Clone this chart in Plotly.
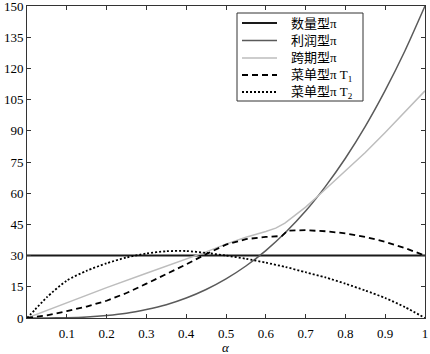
import plotly.graph_objects as go

# ---- data ----
alpha = [0, 0.05, 0.1, 0.15, 0.2, 0.25, 0.3, 0.35, 0.4, 0.45, 0.5,
         0.55, 0.6, 0.65, 0.7, 0.75, 0.8, 0.85, 0.9, 0.95, 1.0]

quantity_pi = [30] * len(alpha)

profit_pi = [0, 0.02, 0.15, 0.5, 1.2, 2.3, 4.1, 6.4, 9.6, 13.7, 18.8,
             25.0, 32.4, 41.2, 51.4, 63.3, 76.8, 92.1, 109.4, 128.6, 150]

inter_alpha = [0, 0.1, 0.2, 0.3, 0.4, 0.45, 0.5, 0.55, 0.6, 0.625, 0.648,
               0.7, 0.732, 0.8, 0.85, 0.9, 0.95, 1.0]
inter_pi = [0, 7.3, 14.6, 21.5, 28.2, 31.8, 35.5, 38.8, 41.6, 43.2, 45.6,
            53.3, 58.8, 70.6, 79.6, 89.2, 99.0, 109.2]

menu1_alpha = [0, 0.05, 0.1, 0.15, 0.2, 0.25, 0.3, 0.35, 0.4, 0.45, 0.5,
               0.55, 0.6, 0.64, 0.655, 0.7, 0.75, 0.8, 0.85, 0.9, 0.95, 1.0]
menu1_pi = [0, 1.3, 3.3, 5.5, 8.3, 12.0, 16.5, 21.0, 25.8, 30.7, 35.3,
            37.9, 39.0, 39.4, 42.0, 42.2, 41.7, 40.7, 39.0, 36.6, 33.6, 30.0]

menu2_alpha = [0, 0.02, 0.05, 0.1, 0.15, 0.2, 0.25, 0.3, 0.35, 0.4, 0.45, 0.5,
               0.55, 0.6, 0.65, 0.7, 0.75, 0.8, 0.85, 0.9, 0.95, 1.0]
menu2_pi = [0, 4.0, 10.0, 18.0, 22.7, 26.3, 29.1, 31.0, 32.1, 32.2, 31.3, 30.0,
            28.5, 26.6, 24.5, 22.0, 19.5, 16.5, 13.2, 9.6, 5.2, 0]

names = ["数量型π", "利润型π", "跨期型π", "菜单型π T<sub>1</sub>", "菜单型π T<sub>2</sub>"]
x_title = "<i>α</i>"
x_ticks = [0.1, 0.2, 0.3, 0.4, 0.5, 0.6, 0.7, 0.8, 0.9, 1.0]
x_tick_labels = ["0.1", "0.2", "0.3", "0.4", "0.5", "0.6", "0.7", "0.8", "0.9", "1"]
y_ticks = [0, 15, 30, 45, 60, 75, 90, 105, 120, 135, 150]

serif = "Liberation Serif, Times New Roman, serif"
cjk = "Liberation Serif, Noto Sans CJK SC, serif"

styles = [
    dict(color="#1a1a1a", width=2),
    dict(color="#5a5a5a", width=1.5),
    dict(color="#bdbdbd", width=1.5),
    dict(color="black", width=1.8, dash="6px,4px"),
    dict(color="black", width=1.8, dash="2px,2px"),
]
series = [(alpha, quantity_pi), (alpha, profit_pi), (inter_alpha, inter_pi),
          (menu1_alpha, menu1_pi), (menu2_alpha, menu2_pi)]
shapes_spline = [False, True, False, False, True]

fig = go.Figure()
for (xs, ys), st, name, spl in zip(series, styles, names, shapes_spline):
    line = dict(st)
    if spl:
        line.update(shape="spline", smoothing=0.7)
    fig.add_trace(go.Scatter(x=xs, y=ys, mode="lines", name=name, line=line, showlegend=False))

# ---- hand-built legend (box, line samples, labels) ----
L, R, T, B = 27, 425, 6, 318  # plot area in pixels
def px(xp):
    return (xp - L) / (R - L)
def py(yp):
    return (B - yp) / (B - T)

fig.add_shape(type="rect", xref="paper", yref="paper",
              x0=px(237), x1=px(363), y0=py(101), y1=py(13),
              line=dict(color="#333", width=1), fillcolor="white", layer="above")
row_y = [23, 40.5, 58, 75, 92]
for i, (st, name) in enumerate(zip(styles, names)):
    fig.add_shape(type="line", xref="paper", yref="paper",
                  x0=px(242), x1=px(277), y0=py(row_y[i]), y1=py(row_y[i]),
                  line=st, layer="above")
    fig.add_annotation(xref="paper", yref="paper", x=px(289), y=py(row_y[i]),
                       xanchor="left", yanchor="middle", showarrow=False,
                       text=name, font=dict(family=cjk, size=13, color="black"))

# x-axis title placed as annotation below tick labels
fig.add_annotation(xref="paper", yref="paper", x=0.5, y=py(347),
                   xanchor="center", yanchor="middle", showarrow=False,
                   text=x_title, font=dict(family=serif, size=13, color="black"))

axis_common = dict(showline=True, linecolor="#333", linewidth=1, mirror="allticks",
                   ticks="inside", ticklen=4, tickcolor="#333", showgrid=False, zeroline=False,
                   ticklabeloverflow="allow", automargin=False,
                   tickfont=dict(family=serif, size=13, color="black"))

fig.update_layout(
    width=430, height=354,
    margin=dict(l=27, r=5, t=6, b=36),
    paper_bgcolor="white", plot_bgcolor="white",
    xaxis=dict(range=[0, 1], tickvals=x_ticks, ticktext=x_tick_labels, ticklabelstandoff=3,
               **axis_common),
    yaxis=dict(range=[0, 150], tickvals=y_ticks, **axis_common),
    showlegend=False,
)

fig.write_html("out.html")
